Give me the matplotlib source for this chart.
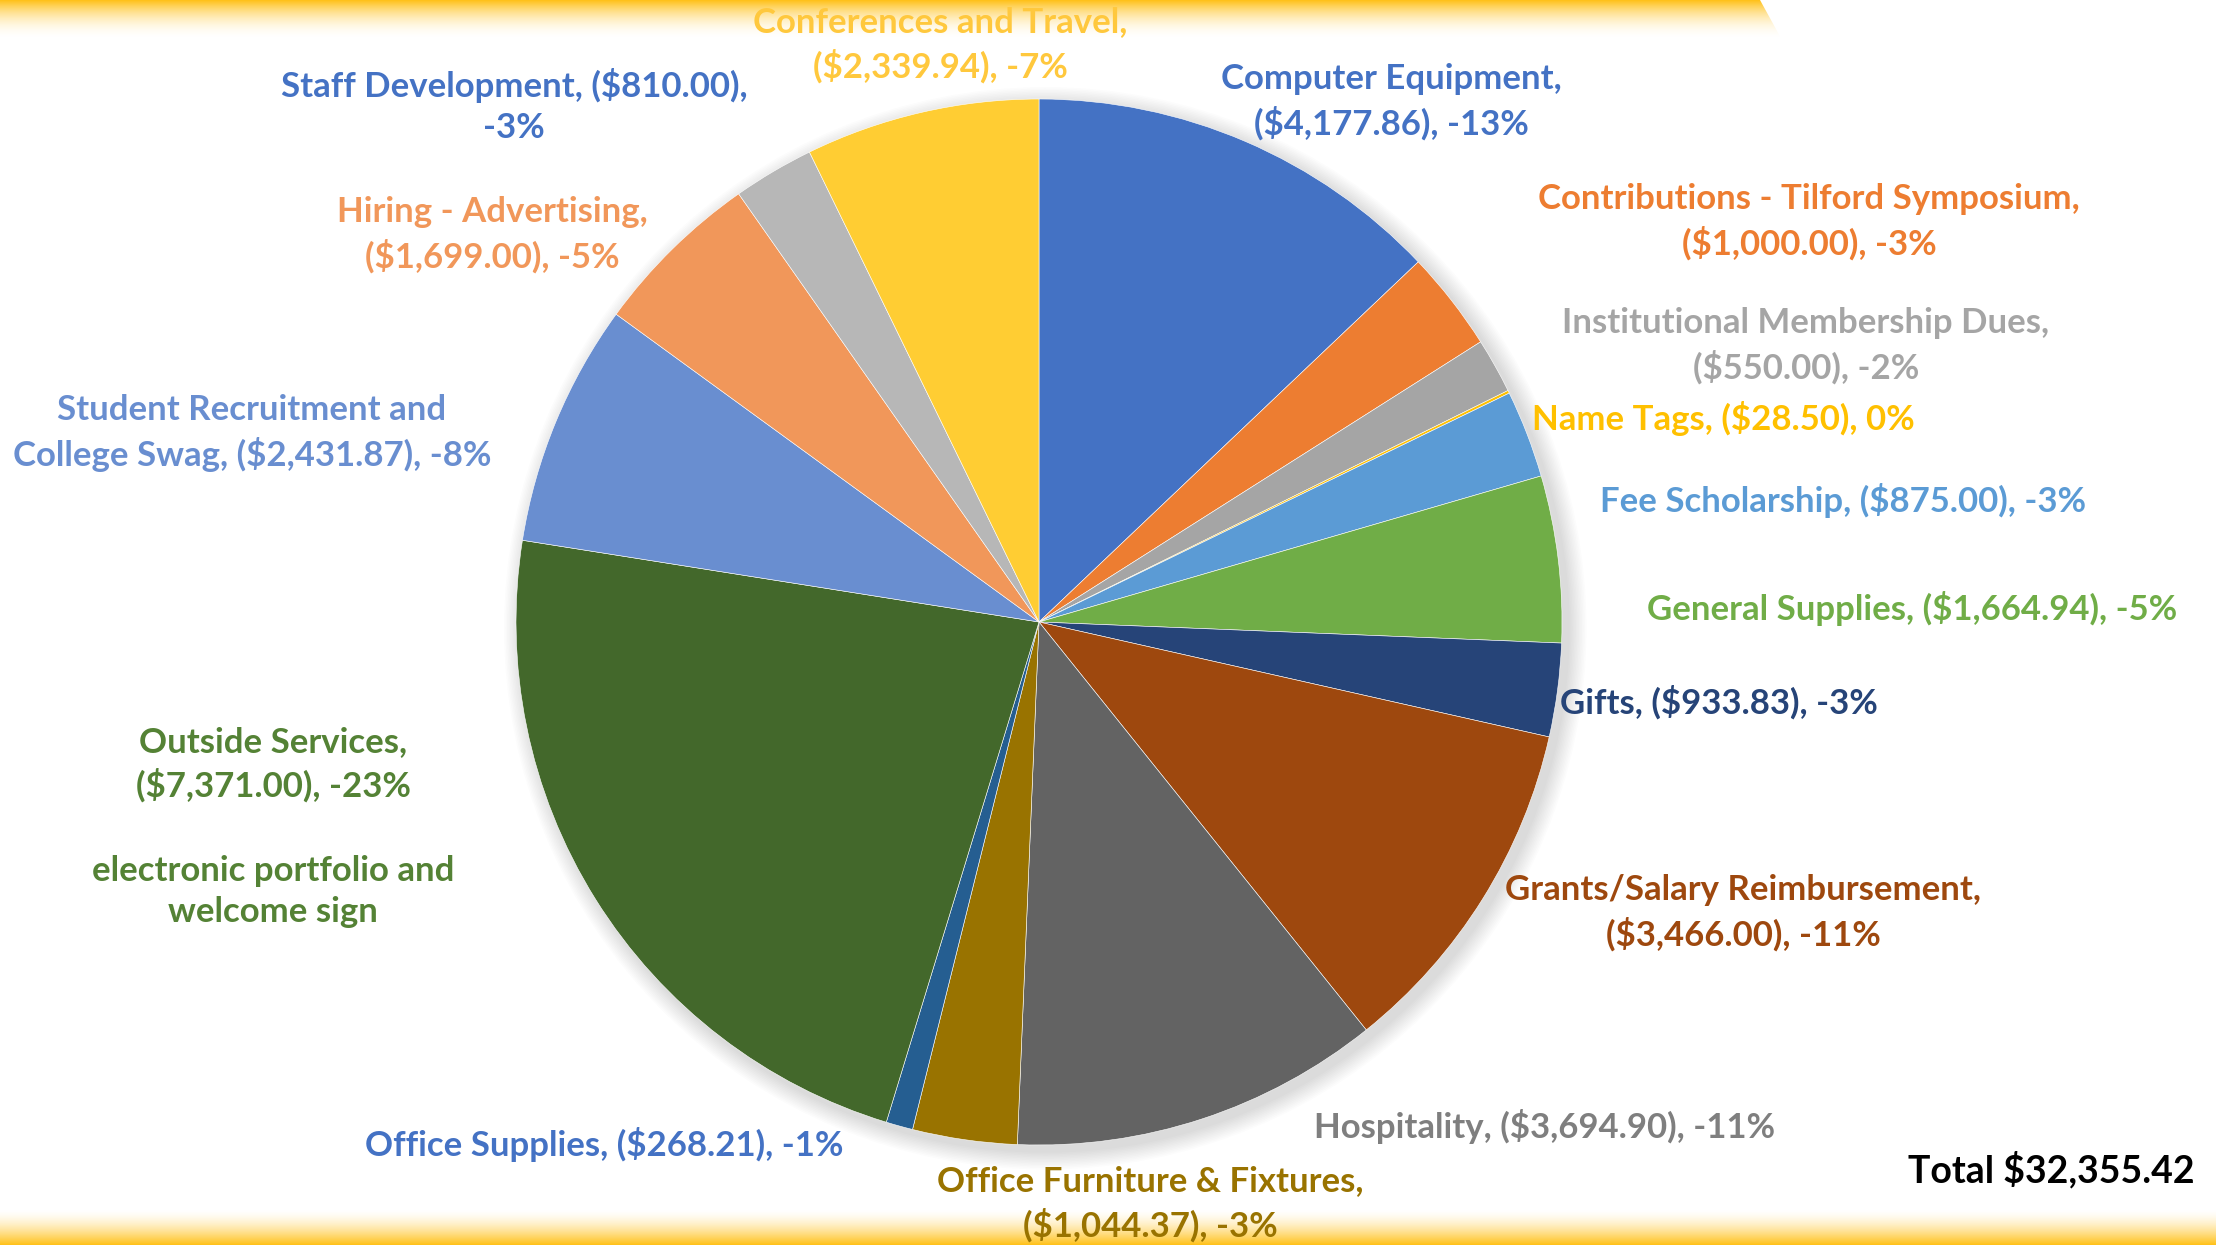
import matplotlib.pyplot as plt
import numpy as np
from matplotlib.patches import Circle, Polygon

categories = ["Computer Equipment", "Contributions - Tilford Symposium", "Institutional Membership Dues",
              "Name Tags", "Fee Scholarship", "General Supplies", "Gifts", "Grants/Salary Reimbursement",
              "Hospitality", "Office Furniture & Fixtures", "Office Supplies", "Outside Services",
              "Student Recruitment and College Swag", "Hiring - Advertising", "Staff Development",
              "Conferences and Travel"]
amounts = [4177.86, 1000.00, 550.00, 28.50, 875.00, 1664.94, 933.83, 3466.00,
           3694.90, 1044.37, 268.21, 7371.00, 2431.87, 1699.00, 810.00, 2339.94]
percents = [-13, -3, -2, 0, -3, -5, -3, -11, -11, -3, -1, -23, -8, -5, -3, -7]
colors = ["#4472C4", "#ED7D31", "#A5A5A5", "#FFC000", "#5B9BD5", "#70AD47", "#264478", "#9E480E",
          "#636363", "#997300", "#255E91", "#43682B", "#698ED0", "#F1975A", "#B7B7B7", "#FFCD33"]
label_colors = ["#4472C4", "#ED7D31", "#A5A5A5", "#FFC000", "#5B9BD5", "#70AD47", "#264478", "#9E480E",
                "#7F7F7F", "#997300", "#4472C4", "#548235", "#698ED0", "#F1975A", "#4472C4", "#FFC83D"]
total_label = "Total $32,355.42"

W, H = 2216, 1245
fig = plt.figure(figsize=(W / 100, H / 100), dpi=100)
plt.rcParams['font.family'] = ['Lato', 'DejaVu Sans']

# background bands
bg = fig.add_axes([0, 0, 1, 1])
bg.set_xlim(0, W)
bg.set_ylim(H, 0)
bg.axis('off')
yel = np.array([1.0, 0.76, 0.1])
g = np.linspace(1, 0, 50)[:, None]
top = np.ones((50, 2, 4))
top[..., :3] = yel
top[..., 3] = g ** 2
im = bg.imshow(top, extent=(0, 1800, 40, 0), aspect='auto', zorder=0)
im.set_clip_path(Polygon([[0, 0], [1760, 0], [1782, 40], [0, 40]], transform=bg.transData))
bot = np.ones((50, 2, 4))
bot[..., :3] = yel
bot[..., 3] = g[::-1] ** 1.6
bg.imshow(bot, extent=(0, W, H, H - 36), aspect='auto', zorder=0)

# pie
cx, cy, r = 1039, 622, 523
ax = fig.add_axes([(cx - r) / W, (H - cy - r) / H, 2 * r / W, 2 * r / H])
ax.axis('off')
for k in range(12):
    ax.add_patch(Circle((0.012, -0.012), 1.0 + 0.035 * (1 - k / 12), color='black',
                        alpha=0.012, lw=0, zorder=0, clip_on=False))
ax.pie(amounts, colors=colors, startangle=90, counterclock=False, radius=1.0,
       wedgeprops=dict(linewidth=0.4, edgecolor='white'))
ax.set_xlim(-1, 1)
ax.set_ylim(-1, 1)

# label positions (pixels) and text
pos = [(1391, 102), (1809, 222), (1806, 346), (1723, 418), (1843, 500), (1912, 609),
       (1719, 702), (1743, 913), (1545, 1127), (1150, 1204), (604, 1145), (273, 827),
       (252, 433), (492, 235), (514, 106), (940, 45)]
two_line = {0, 1, 2, 7, 9, 15, 13}
for i, (name, amt, pc) in enumerate(zip(categories, amounts, percents)):
    val = "(${:,.2f}), {}%".format(amt, pc)
    if i == 11:
        txt = name + ",\n" + val + "\n\nelectronic portfolio and\nwelcome sign"
    elif i == 12:
        txt = "Student Recruitment and\nCollege Swag, " + val
    elif i == 14:
        txt = name + ", (${:,.2f}),\n{}%".format(amt, pc)
    elif i in two_line:
        txt = name + ",\n" + val
    else:
        txt = name + ", " + val
    x, y = pos[i]
    fig.text(x / W, 1 - y / H, txt, ha='center', va='center', color=label_colors[i],
             fontsize=25, fontweight='bold', linespacing=1.38)

fig.text(2195 / W, 1 - 1170 / H, total_label, ha='right', va='center', color='black',
         fontsize=27, fontweight='bold')

fig.savefig("out.png", dpi=100)
